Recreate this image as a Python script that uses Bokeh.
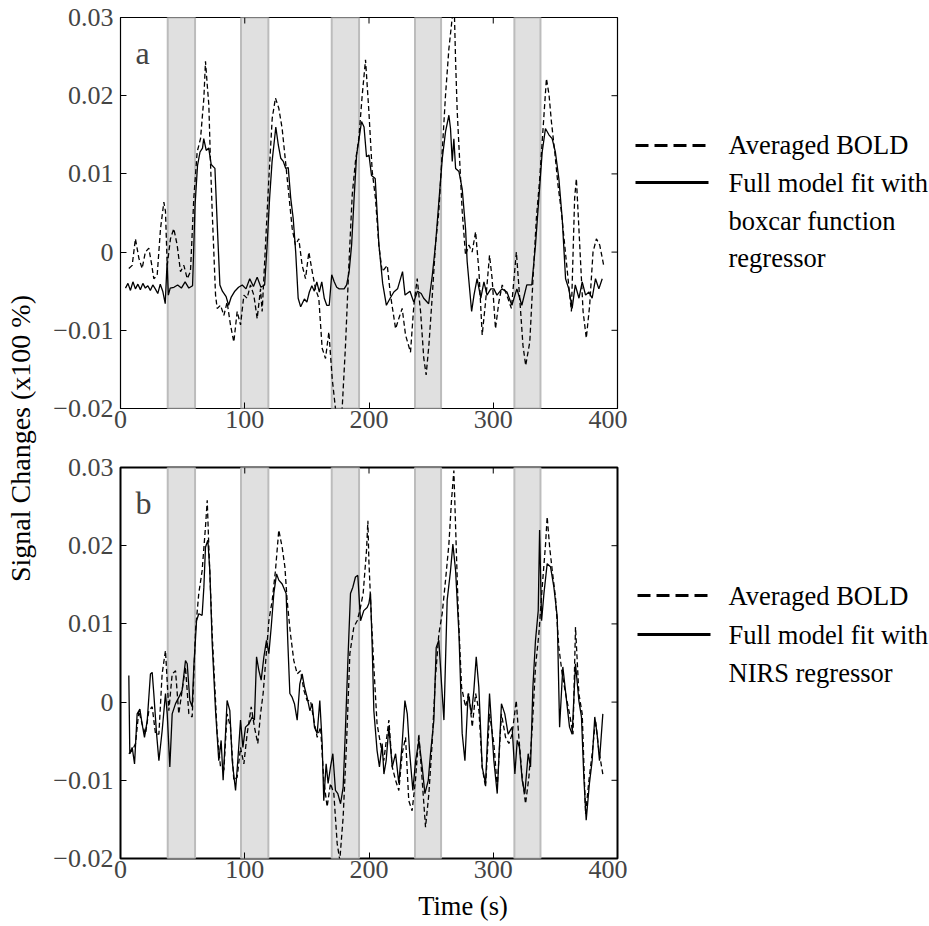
import math
from bokeh.plotting import figure
from bokeh.layouts import row, column
from bokeh.models import Range1d, FixedTicker, Label
from bokeh.embed import file_html
from bokeh.resources import INLINE
from bokeh.core.properties import value

FONT = "'Liberation Serif', 'Times New Roman', serif"

# ---------------- data ----------------
block_start = [38, 97, 170, 237, 317]
block_end = [60, 119, 192, 258, 338]

x_ticks = [0, 100, 200, 300, 400]
y_ticks = [-0.02, -0.01, 0, 0.01, 0.02, 0.03]
y_tick_labels = ["\u22120.02", "\u22120.01", "0", "0.01", "0.02", "0.03"]

# Panel a: averaged BOLD (dashed)
a_bold_t = [6.7, 9.4, 12, 14.8, 17.4, 20, 22.8, 25, 26.8, 29.5, 32.2, 34.9, 36.2, 37.6, 40.2, 42.9, 45.6, 48.3, 51, 53.7,
            56.3, 59, 61.7, 64.4, 67.1, 68.4, 69.8, 71.1, 72.4, 73.8, 76.5, 77.8, 80.5, 83.2, 85.8, 88.5, 91.2, 93.9, 96.6,
            99.3, 101.9, 104.6, 107.3, 110, 112.7, 114, 116.7, 119.4, 122.1, 124.7, 127.4, 130.1, 132.8, 135.5, 138.2,
            140.8, 143.5, 146.2, 148.9, 151.6, 154.3, 156.9, 159.6, 162.3, 165, 167.7, 170.4, 173, 175.7, 178.4, 181.1,
            183.8, 186.5, 189.1, 191.8, 194.5, 197.2, 199.9, 202.6, 205.2, 207.9, 210.6, 214.7, 217.3, 221.4, 224, 226.7,
            229.4, 233.4, 236.1, 238.8, 241.5, 244.1, 246, 248.2, 250.8, 253.5, 256.2, 258.9, 261.6, 264.3, 267, 268.5,
            269.7, 271, 273.7, 275, 277.7, 280.4, 283, 285.8, 288.5, 291.1, 293.8, 297, 299.1, 301.8, 304.5, 307.2, 310,
            314.6, 318.6, 321.3, 323.9, 326.1, 329.4, 332, 334.7, 337.4, 340.1, 342.8, 344.9, 346.8, 349.5, 352.1, 354.8,
            357.5, 360.2, 362.9, 365.5, 366.9, 369.6, 372.3, 374.9, 377.6, 380.3, 383, 385.7, 388.9]
a_bold_v = [-0.0021, -0.0017, 0.0017, -0.0008, -0.0021, 0.0000, 0.0005, -0.0015, -0.0034, -0.0030, 0.0030, 0.0064, 0.0052,
            -0.0017, 0.0017, 0.0030, 0.0009, -0.0025, -0.0017, -0.0034, -0.0025, 0.0069, 0.0128, 0.0145, 0.0197, 0.0244,
            0.0214, 0.0188, 0.0116, 0.0052, -0.0055, -0.0072, -0.0068, -0.0081, -0.0064, -0.0093, -0.0115, -0.0076, -0.0093,
            -0.0055, -0.0059, -0.0042, -0.0055, -0.0085, -0.0047, -0.0076, 0.0009, 0.0094, 0.0171, 0.0197, 0.0184, 0.0158,
            0.0116, 0.0073, 0.0030, 0.0009, 0.0017, -0.0017, -0.0034, 0.0000, -0.0025, -0.0047, -0.0059, -0.0123, -0.0136,
            -0.0102, -0.0162, -0.0200, -0.0210, -0.0200, -0.0119, -0.0017, 0.0073, 0.0116, 0.0145, 0.0200, 0.0246, 0.0180,
            0.0103, 0.0069, 0.0009, -0.0025, -0.0017, -0.0055, -0.0098, -0.0085, -0.0072, -0.0106, -0.0128, -0.0068, -0.0034,
            -0.0076, -0.0136, -0.0157, -0.0119, -0.0059, 0.0009, 0.0052, 0.0128, 0.0201, 0.0260, 0.0300, 0.0320, 0.0244,
            0.0180, 0.0094, 0.0052, -0.0004, 0.0009, 0.0000, 0.0026, -0.0025, -0.0106, -0.0064, -0.0004, -0.0034, -0.0098,
            -0.0064, -0.0042, -0.0051, -0.0072, 0.0000, -0.0059, -0.0119, -0.0145, -0.0115, -0.0034, 0.0043, 0.0094, 0.0158,
            0.0222, 0.0201, 0.0167, 0.0128, 0.0086, 0.0052, 0.0009, -0.0034, -0.0076, 0.0069, 0.0094, 0.0009, -0.0076,
            -0.0110, -0.0068, 0.0000, 0.0017, 0.0009, -0.0017]

# Panel a: full model fit with boxcar regressor (solid)
a_fit_t = [4, 6, 8, 10, 12, 14, 16, 18, 20, 22, 24, 26, 28, 30, 32, 34, 36, 37.5, 38.5, 40, 43, 46, 49, 52, 55, 58, 60, 62,
           64, 66, 67, 69, 71, 73, 76, 78, 80, 82, 85, 87, 89, 92, 95, 98, 101, 104, 107, 110, 113, 116, 118, 120, 122, 124,
           125, 127, 129, 131, 133, 135, 137, 139, 141, 143, 145, 148, 150, 152, 154, 156, 158, 160, 162, 164, 166, 168,
           170, 172, 174, 176, 180, 182, 184, 186, 188, 190, 192, 194, 196, 198, 200, 202, 205, 208, 211, 214, 217, 220,
           223, 227, 229, 233, 236, 239, 242, 244, 248, 251, 253.5, 256, 259, 261.6, 264.3, 265.6, 267, 268.3, 269.7, 272.4,
           275, 277.7, 279, 282.6, 284.5, 287, 290, 292.5, 295, 298, 300.5, 303, 307, 311, 315, 319, 323, 327, 331, 334,
           336.7, 339.4, 342, 344.8, 347.4, 350, 352.8, 355.5, 358.2, 360.8, 363.5, 366, 369, 371.6, 374.3, 377, 379.6,
           382.3, 385, 387.7]
a_fit_v = [-0.0046, -0.0040, -0.0049, -0.0038, -0.0047, -0.0041, -0.0048, -0.0040, -0.0046, -0.0043, -0.0049, -0.0042,
           -0.0047, -0.0053, -0.0041, -0.0050, -0.0066, -0.0013, -0.0055, -0.0046, -0.0045, -0.0042, -0.0046, -0.0038,
           -0.0046, -0.0043, 0.0060, 0.0111, 0.0128, 0.0133, 0.0145, 0.0130, 0.0133, 0.0112, 0.0107, 0.0030, -0.0042,
           -0.0050, -0.0057, -0.0068, -0.0058, -0.0050, -0.0045, -0.0042, -0.0047, -0.0034, -0.0044, -0.0032, -0.0045,
           -0.0042, 0.0009, 0.0069, 0.0116, 0.0145, 0.0160, 0.0137, 0.0120, 0.0116, 0.0107, 0.0108, 0.0069, 0.0043, 0.0000,
           -0.0059, -0.0070, -0.0060, -0.0064, -0.0051, -0.0043, -0.0050, -0.0038, -0.0051, -0.0038, -0.0059, -0.0068,
           -0.0068, -0.0029, -0.0038, -0.0045, -0.0047, -0.0047, -0.0042, -0.0025, 0.0009, 0.0069, 0.0124, 0.0145, 0.0167,
           0.0160, 0.0122, 0.0124, 0.0098, 0.0094, 0.0009, -0.0040, -0.0068, -0.0059, -0.0051, -0.0047, -0.0025, -0.0055,
           -0.0050, -0.0064, -0.0050, -0.0053, -0.0059, -0.0066, -0.0029, 0.0009, 0.0060, 0.0120, 0.0154, 0.0175, 0.0158,
           0.0116, 0.0145, 0.0107, 0.0103, 0.0081, 0.0030, -0.0012, -0.0076, -0.0055, -0.0034, -0.0059, -0.0038, -0.0055,
           -0.0047, -0.0047, -0.0055, -0.0047, -0.0051, -0.0068, -0.0047, -0.0068, -0.0042, -0.0042, 0.0009, 0.0069, 0.0128,
           0.0158, 0.0150, 0.0145, 0.0128, 0.0094, 0.0043, -0.0034, -0.0047, -0.0072, -0.0042, -0.0059, -0.0038, -0.0055,
           -0.0051, -0.0059, -0.0034, -0.0047, -0.0034]

# Panel b: averaged BOLD (dashed)
b_bold_t = [6.7, 9.4, 12.1, 14.8, 17.4, 20.1, 22.8, 25.5, 28.2, 30.9, 33.5, 36.2, 38.9, 41.6, 44.3, 46.9, 49.6, 52.3, 55,
            57.7, 60.4, 63, 65.7, 68.4, 69.8, 71.1, 73.8, 77.8, 80.5, 83.2, 85.8, 88.5, 91.2, 93.9, 96.6, 99.3, 101.9, 105.2,
            107.8, 110.5, 112.7, 114.8, 116.7, 119.4, 122.1, 124.7, 127.4, 130.1, 132.3, 134.1, 136.8, 139.5, 142.2, 144.9,
            147.6, 150.2, 152.9, 155.6, 158.3, 161, 163.6, 166.3, 169, 171.7, 174.4, 176.5, 179.2, 181.9, 184.6, 187.8,
            190.5, 192.6, 195.3, 198, 199.1, 199.9, 202, 203.9, 206.5, 209.2, 211.9, 216, 218.7, 221.4, 224, 226.7, 229.4,
            232, 234.7, 237.4, 240.1, 242.8, 245.5, 248.2, 250.8, 253.5, 256.2, 258.9, 261.6, 264.3, 266.4, 268.3, 269.7,
            271.8, 274.5, 277.7, 280.4, 283.1, 285.8, 288.5, 291.1, 293.8, 297, 300.5, 303.2, 306.6, 309.9, 312.6, 315.2,
            318.5, 320.6, 323.3, 326, 328.7, 331.4, 334, 336.7, 339.4, 342.1, 343.4, 345.4, 347.5, 350.1, 352.8, 355.5,
            358.2, 361.4, 364.2, 366.2, 368.9, 371.6, 374.3, 377, 379.6, 382.3, 385, 388.2]
b_bold_v = [-0.0066, -0.0062, -0.0053, -0.0011, -0.0028, -0.0041, -0.0011, -0.0006, -0.0041, -0.0041, 0.0036, 0.0066,
            -0.0011, 0.0036, 0.0040, -0.0015, 0.0015, 0.0045, -0.0015, -0.0019, 0.0092, 0.0139, 0.0168, 0.0224, 0.0258,
            0.0198, 0.0087, -0.0040, -0.0083, -0.0087, -0.0015, -0.0032, -0.0100, -0.0096, -0.0058, -0.0079, -0.0041,
            -0.0006, -0.0032, -0.0053, -0.0015, 0.0011, 0.0049, 0.0104, 0.0130, 0.0168, 0.0220, 0.0198, 0.0173, 0.0130,
            0.0087, 0.0053, 0.0036, 0.0040, 0.0015, 0.0002, 0.0002, -0.0023, -0.0045, -0.0032, -0.0100, -0.0134, -0.0104,
            -0.0117, -0.0181, -0.0202, -0.0147, -0.0053, 0.0062, 0.0096, 0.0104, 0.0117, 0.0139, 0.0194, 0.0232, 0.0181,
            0.0104, 0.0045, -0.0028, -0.0053, -0.0075, -0.0023, -0.0083, -0.0100, -0.0113, -0.0066, -0.0045, -0.0126,
            -0.0139, -0.0100, -0.0041, -0.0100, -0.0160, -0.0117, -0.0053, 0.0032, 0.0087, 0.0113, 0.0156, 0.0202, 0.0258,
            0.0296, 0.0224, 0.0117, 0.0019, -0.0006, 0.0011, -0.0032, 0.0011, -0.0011, -0.0083, -0.0109, -0.0015, -0.0053,
            -0.0109, -0.0015, -0.0045, -0.0053, -0.0041, 0.0002, -0.0045, -0.0096, -0.0130, -0.0096, -0.0032, 0.0045, 0.0087,
            0.0147, 0.0202, 0.0237, 0.0198, 0.0168, 0.0134, 0.0070, 0.0036, 0.0011, -0.0015, -0.0041, 0.0096, 0.0011,
            -0.0015, -0.0143, -0.0100, -0.0066, -0.0023, -0.0062, -0.0092]

# Panel b: full model fit with NIRS regressor (solid)
b_fit_t = [6.7, 7.5, 9.4, 11.3, 13.4, 15.6, 17.4, 19.3, 21.5, 24.1, 25.5, 26.8, 29, 30.9, 33.5, 36.2, 37.6, 39.7, 41.6,
           44.3, 46.9, 49.6, 52.3, 53.7, 55.8, 57.7, 59, 61.2, 63, 65.7, 67.1, 68.4, 70.3, 71.9, 73.8, 76.5, 79.1, 81, 82.6,
           84.5, 85.8, 88, 89.9, 92.6, 94.4, 96.6, 98.5, 100.6, 103.3, 106, 107.8, 109.5, 111.3, 113.2, 115.4, 117.5, 119.4,
           121.3, 123.4, 125.6, 127.4, 130.1, 133.3, 134.7, 136.3, 138.2, 140, 142.2, 144.3, 146.2, 148.1, 150.2, 152.4,
           154.3, 156.1, 158.3, 160.4, 162.3, 163.6, 165.5, 167.1, 169, 170.9, 173, 174.9, 177.1, 179.2, 181.1, 183, 185.1,
           187, 189.1, 191, 193.2, 195.8, 198.5, 199.9, 201.2, 202.6, 203.9, 206.5, 208.4, 210.6, 212, 213.8, 216, 218.7,
           221.4, 224, 226.7, 228.9, 230.8, 232.6, 235.3, 237.5, 240.2, 242.8, 245, 247.7, 249.5, 252.2, 254.1, 256.2,
           258.4, 260.3, 262.9, 265.6, 267.5, 269.7, 272.4, 275, 277.2, 279.8, 282.5, 284.4, 286.3, 288.4, 291.1, 293.8,
           297, 300.5, 303.2, 306.6, 309.3, 312, 315.2, 317.4, 319.3, 321.1, 323.3, 325.4, 328.1, 330, 331.9, 334, 336.2,
           337.3, 338.9, 340.8, 343.4, 346.1, 348.8, 351.5, 353.4, 356, 358.7, 361.4, 363.5, 366.2, 368.9, 371, 372.9,
           374.8, 377.4, 379.6, 381.7, 383.6, 385.5, 388.2]
b_fit_v = [0.0034, -0.0066, -0.0058, -0.0079, -0.0015, -0.0009, -0.0028, -0.0045, -0.0024, 0.0036, 0.0038, 0.0011, -0.0040,
           -0.0075, -0.0037, 0.0011, -0.0015, -0.0083, -0.0015, -0.0002, 0.0006, 0.0015, 0.0053, 0.0049, 0.0002, -0.0006,
           0.0045, 0.0104, 0.0113, 0.0111, 0.0147, 0.0198, 0.0207, 0.0168, 0.0075, -0.0011, -0.0075, -0.0049, -0.0100,
           -0.0041, 0.0002, -0.0011, -0.0075, -0.0113, -0.0075, -0.0023, -0.0058, -0.0032, -0.0028, -0.0019, -0.0023,
           0.0058, 0.0041, 0.0028, 0.0058, 0.0079, 0.0062, 0.0096, 0.0139, 0.0164, 0.0156, 0.0151, 0.0139, 0.0075, 0.0011,
           0.0006, -0.0002, -0.0023, 0.0023, 0.0036, 0.0019, 0.0006, -0.0011, -0.0002, -0.0032, -0.0040, 0.0002, -0.0053,
           -0.0126, -0.0079, -0.0104, -0.0083, -0.0066, -0.0113, -0.0117, -0.0130, -0.0109, -0.0032, 0.0053, 0.0139,
           0.0147, 0.0160, 0.0162, 0.0104, 0.0117, 0.0121, 0.0126, 0.0139, 0.0070, -0.0011, -0.0062, -0.0083, -0.0053,
           -0.0092, -0.0075, -0.0032, -0.0083, -0.0066, -0.0104, -0.0053, 0.0002, -0.0015, -0.0062, -0.0113, -0.0075,
           -0.0049, -0.0083, -0.0117, -0.0100, -0.0066, -0.0023, 0.0070, 0.0079, 0.0023, -0.0023, 0.0130, 0.0168, 0.0202,
           0.0168, 0.0087, -0.0040, -0.0075, 0.0011, -0.0015, 0.0015, 0.0058, 0.0019, -0.0083, -0.0104, 0.0011, -0.0075,
           -0.0117, -0.0002, -0.0015, -0.0041, -0.0032, -0.0092, -0.0049, -0.0058, -0.0100, -0.0117, -0.0066, -0.0083,
           0.0019, 0.0079, 0.0117, 0.0220, 0.0104, 0.0139, 0.0177, 0.0173, 0.0147, 0.0109, -0.0032, 0.0045, 0.0006,
           -0.0032, -0.0041, 0.0049, 0.0002, -0.0019, -0.0096, -0.0151, -0.0104, -0.0075, -0.0019, -0.0041, -0.0075,
           -0.0015]

legend_a = ["Averaged BOLD", "Full model fit with", "boxcar function", "regressor"]
legend_b = ["Averaged BOLD", "Full model fit with", "NIRS regressor"]
panel_letters = ["a", "b"]
y_label = "Signal Changes (x100 %)"
x_label = "Time (s)"

# ---------------- layout constants (page pixels) ----------------
PW = 579          # panel figure width (page x 48..627)
TICK_FS = "26px"
LABEL_FS = "26.5px"


def panel(height, top_border, bottom_border, outline_w, letter, bold_t, bold_v, fit_t, fit_v):
    x0, x1 = x_ticks[0], x_ticks[-1]
    y0, y1 = y_ticks[0], y_ticks[-1]
    p = figure(width=PW, height=height, x_range=Range1d(x0, x1), y_range=Range1d(y0, y1),
               output_backend="svg", toolbar_location=None,
               min_border_left=72, min_border_right=10,
               min_border_top=top_border, min_border_bottom=bottom_border)
    p.grid.grid_line_color = None
    p.outline_line_color = "black"
    p.outline_line_width = outline_w

    p.quad(left=block_start, right=block_end,
           top=[y1] * len(block_start), bottom=[y0] * len(block_start),
           fill_color="#e0e0e0", line_color="#bcbcbc", line_width=2)
    p.line(bold_t, bold_v, color="black", line_width=1.3, line_dash="5 3")
    p.line(fit_t, fit_v, color="black", line_width=1.3)

    # inward tick marks on the top and right edges (MATLAB-style box)
    tick_dx = (x1 - x0) * 6 / 497.0
    tick_dy = (y1 - y0) * 6 / 391.0
    p.segment(x0=x_ticks, y0=[y1] * len(x_ticks), x1=x_ticks, y1=[y1 - tick_dy] * len(x_ticks),
              color="black", line_width=1)
    p.segment(x0=[x1] * len(y_ticks), y0=y_ticks, x1=[x1 - tick_dx] * len(y_ticks), y1=y_ticks,
              color="black", line_width=1)

    xa = p.xaxis[0]
    xa.ticker = FixedTicker(ticks=x_ticks)
    xa.major_label_text_font = FONT
    xa.major_label_text_font_size = TICK_FS
    xa.major_label_standoff = 2
    xa.major_tick_in = 6
    xa.major_tick_out = 0
    xa.minor_tick_line_color = None
    xa.axis_line_color = None

    ya = p.yaxis[0]
    ya.ticker = FixedTicker(ticks=y_ticks)
    ya.major_label_overrides = {t: s for t, s in zip(y_ticks, y_tick_labels)}
    ya.major_label_text_font = FONT
    ya.major_label_text_font_size = TICK_FS
    ya.major_label_standoff = 7
    ya.major_tick_in = 6
    ya.major_tick_out = 0
    ya.minor_tick_line_color = None
    ya.axis_line_color = None

    p.add_layout(Label(x=12, y=0.0254, text=letter, text_font=FONT, text_font_size="32px",
                       text_baseline="alphabetic", text_align="left"))
    return p


def blank(width, height, xr, yr):
    f = figure(width=width, height=height, x_range=Range1d(*xr), y_range=Range1d(*yr),
               output_backend="svg", toolbar_location=None, min_border=0)
    f.axis.visible = False
    f.grid.grid_line_color = None
    f.outline_line_color = None
    return f


# panels (page y: a 0..448, b 448..892)
p_a = panel(448, 17, 40, 1.2, panel_letters[0], a_bold_t, a_bold_v, a_fit_t, a_fit_v)
p_b = panel(444, 19, 34, 2.0, panel_letters[1], b_bold_t, b_bold_v, b_fit_t, b_fit_v)

# x label strip (page y 892..924)
t_fig = blank(PW, 32, (48, 48 + PW), (0, 32))
t_fig.text(x=[447], y=[924 - 905], text=[x_label], text_font=value(FONT), text_font_size=LABEL_FS,
           text_align="center", text_baseline="middle", color="black")

# y label strip (page x 0..48)
y_fig = blank(48, 924, (0, 48), (0, 924))
y_fig.text(x=[20], y=[924 - 438], text=[y_label], text_font=value(FONT), text_font_size="28px",
           text_align="center", text_baseline="middle", angle=math.pi / 2, color="black")

# legend strips (page x 627..929)
leg_a = blank(302, 448, (627, 929), (0, 448))
leg_a.line([635, 708], [448 - 145] * 2, color="black", line_width=3, line_dash="13 6")
leg_a.line([635, 708], [448 - 182] * 2, color="black", line_width=3)
leg_a.text(x=[728] * 4, y=[448 - 144, 448 - 182, 448 - 220, 448 - 257], text=legend_a,
           text_font=value(FONT), text_font_size=LABEL_FS, text_align="left", text_baseline="middle",
           color="black")

leg_b = blank(302, 444, (627, 929), (448, 892))
leg_b.line([637, 710], [892 + 448 - 595] * 2, color="black", line_width=3, line_dash="13 6")
leg_b.line([637, 710], [892 + 448 - 634] * 2, color="black", line_width=3)
leg_b.text(x=[728] * 3, y=[892 + 448 - 595, 892 + 448 - 634, 892 + 448 - 672], text=legend_b,
           text_font=value(FONT), text_font_size=LABEL_FS, text_align="left", text_baseline="middle",
           color="black")

layout = row(y_fig, column(p_a, p_b, t_fig), column(leg_a, leg_b))

open("out.html", "w").write(file_html(layout, INLINE))
